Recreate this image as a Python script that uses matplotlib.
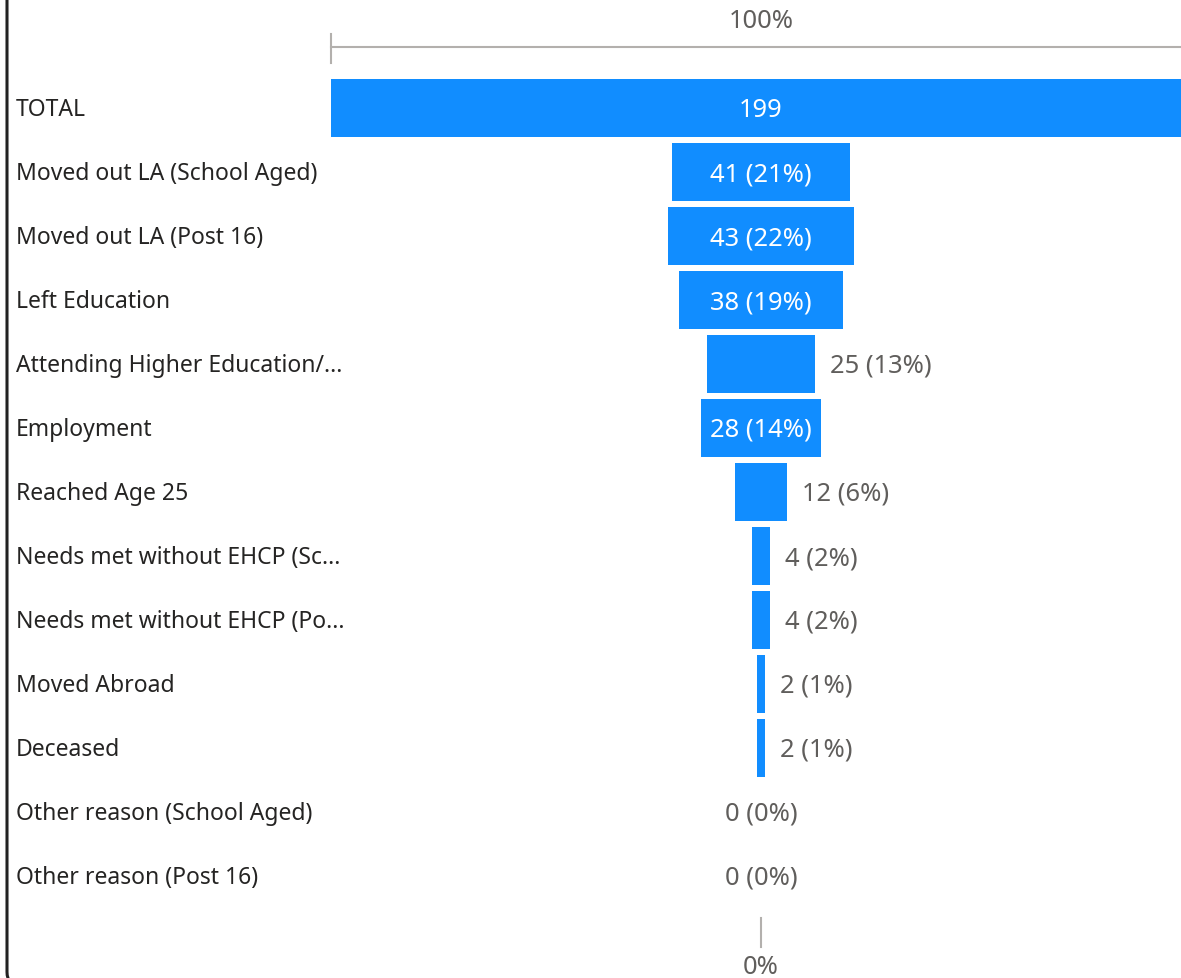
import matplotlib
matplotlib.use("Agg")
from matplotlib import pyplot as plt
from matplotlib.path import Path
from matplotlib.patches import PathPatch

plt.rcParams['font.family'] = ['Noto Sans', 'DejaVu Sans']

# funnel stages, as shown (long names are cut off in the visual)
stages = ["TOTAL", "Moved out LA (School Aged)", "Moved out LA (Post 16)",
          "Left Education", "Attending Higher Education/...", "Employment",
          "Reached Age 25", "Needs met without EHCP (Sc...",
          "Needs met without EHCP (Po...", "Moved Abroad", "Deceased",
          "Other reason (School Aged)", "Other reason (Post 16)"]
counts = [199, 41, 43, 38, 25, 28, 12, 4, 4, 2, 2, 0, 0]
pcts = [None, 21, 22, 19, 13, 14, 6, 2, 2, 1, 1, 0, 0]

W, H = 1181, 979
BLUE = "#118DFF"
GREY = "#605E5C"
AXGREY = "#B3B0AD"

fig = plt.figure(figsize=(W / 100, H / 100), dpi=100)
ax = fig.add_axes([0, 0, 1, 1])

# pixel layout: funnel centred at x=761, 4.32 px per unit, rows every 64 px
cx, k = 761, 4.32
y0, pitch = 109, 64
ax.set_xlim(-cx / k, (W - cx) / k)
ax.set_ylim((H - y0) / pitch, -y0 / pitch)
ax.axis("off")

rows = list(range(len(stages)))
ax.barh(rows, counts, left=[-c / 2 for c in counts], height=58 / pitch,
        color=BLUE, linewidth=0)

CAT_FS = 16.5
LAB_FS = 18.4
dcat = 1 / pitch
dlab = 1.5 / pitch
for i, (name, c, p) in enumerate(zip(stages, counts, pcts)):
    ax.text(16 / k - cx / k, i + dcat, name, fontsize=CAT_FS, color="#252423",
            va="center", ha="left")
    lab = str(c) if p is None else f"{c} ({p}%)"
    if c * k > 115:
        ax.text(0, i + dlab, lab, fontsize=LAB_FS, color="white",
                ha="center", va="center")
    elif c > 0:
        ax.text(c / 2 + 15 / k, i + dlab, lab, fontsize=LAB_FS, color=GREY,
                ha="left", va="center")
    else:
        ax.text(0, i + dlab, lab, fontsize=LAB_FS, color=GREY,
                ha="center", va="center")

# top "100%" axis
top = counts[0]
ytop = (48 - y0) / pitch
ax.plot([-top / 2, top / 2], [ytop, ytop], color=AXGREY, lw=1.5, clip_on=False)
ax.plot([-top / 2, -top / 2], [(35 - y0) / pitch, (64 - y0) / pitch],
        color=AXGREY, lw=1.5)
ax.text(0, (21 - y0) / pitch, "100%", fontsize=LAB_FS, color=GREY,
        ha="center", va="center")

# bottom "0%" axis
ax.plot([0, 0], [(919 - y0) / pitch, (948 - y0) / pitch], color=AXGREY, lw=1.5)
ax.text(0, (968 - y0) / pitch, "0%", fontsize=LAB_FS, color=GREY,
        ha="center", va="center")

# card border (left edge with rounded bottom corner)
r = 14
yb = H + 8
verts = [(7, -5), (7, yb - r), (7, yb), (7 + r, yb), (W + 10, yb)]
codes = [Path.MOVETO, Path.LINETO, Path.CURVE3, Path.CURVE3, Path.LINETO]
pverts = [(x / W, 1 - y / H) for x, y in verts]
fig.patches.append(PathPatch(Path(pverts, codes), transform=fig.transFigure,
                             fill=False, edgecolor="#222222", lw=2.2))

fig.savefig("out.png", dpi=100)
